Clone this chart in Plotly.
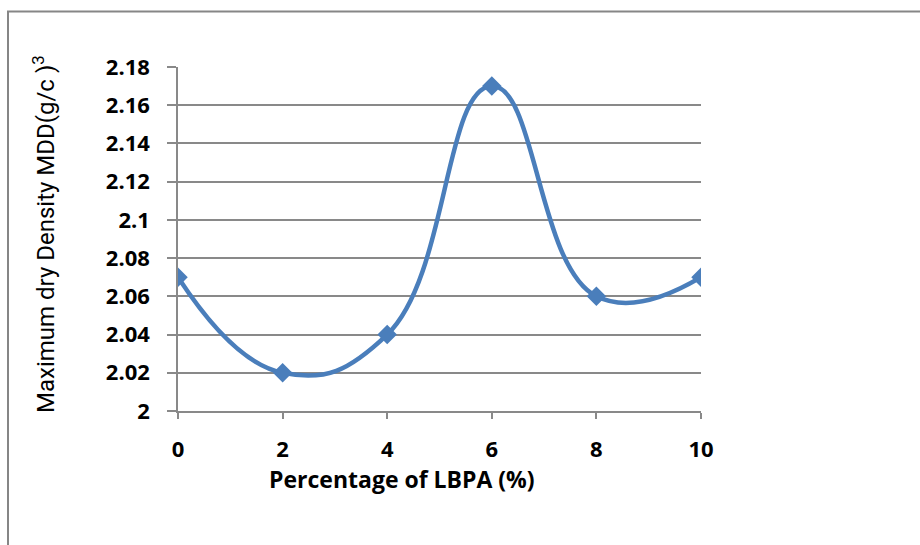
import plotly.graph_objects as go

lbpa_pct = [0, 2, 4, 6, 8, 10]
mdd = [2.07, 2.02, 2.04, 2.17, 2.06, 2.07]
x_ticks = [0, 2, 4, 6, 8, 10]
y_ticks = [2, 2.02, 2.04, 2.06, 2.08, 2.1, 2.12, 2.14, 2.16, 2.18]
y_tick_text = ["2", "2.02", "2.04", "2.06", "2.08", "2.1", "2.12", "2.14", "2.16", "2.18"]

W, H = 920, 545
L, R, T, B = 178, 219, 67, 134
pw, ph = W - L - R, H - T - B

def px_x(p):
    return (p - L) / pw

def px_y(p):
    return (H - B - p) / ph

grid = "#898989"
blue = "#4A7EBB"
tickfont = dict(family="Open Sans", size=22, color="black", weight="bold")

fig = go.Figure()
fig.add_trace(go.Scatter(
    x=lbpa_pct, y=mdd, mode="lines+markers",
    line=dict(color=blue, width=4.5, shape="spline", smoothing=1.3),
    marker=dict(symbol="diamond", size=15, color=blue),
    showlegend=False,
))

fig.update_layout(
    width=W, height=H,
    margin=dict(l=L, r=R, t=T, b=B),
    paper_bgcolor="white", plot_bgcolor="white",
    xaxis=dict(range=[0, 10], tickvals=x_ticks, showgrid=False, zeroline=False,
               showline=True, linecolor=grid, linewidth=1.5,
               ticks="outside", ticklen=6, tickcolor=grid, tickwidth=1.5,
               tickfont=tickfont, ticklabelstandoff=12),
    yaxis=dict(range=[2, 2.18], tickvals=y_ticks, ticktext=y_tick_text,
               showgrid=True, gridcolor=grid, gridwidth=1.5, zeroline=False,
               showline=True, linecolor=grid, linewidth=1.5,
               ticks="outside", ticklen=9, tickcolor=grid, tickwidth=1.5,
               tickfont=tickfont, ticklabelstandoff=13),
)

fig.add_shape(type="rect", xref="paper", yref="paper",
              x0=px_x(8), x1=px_x(930), y0=px_y(560), y1=px_y(11.5),
              line=dict(color="#868686", width=2), fillcolor="rgba(0,0,0,0)", layer="below")

fig.add_annotation(xref="paper", yref="paper", x=px_x(44), y=px_y(234),
                   text="Maximum dry Density MDD(g/c )<sup>3</sup>", textangle=-90,
                   showarrow=False, xanchor="center", yanchor="middle",
                   font=dict(family="Roboto", size=24, color="black"))
fig.add_annotation(xref="paper", yref="paper", x=px_x(402), y=px_y(479),
                   text="Percentage of LBPA (%)", showarrow=False,
                   xanchor="center", yanchor="middle",
                   font=dict(family="Open Sans", size=23, color="black", weight="bold"))

fig.write_html("out.html")
